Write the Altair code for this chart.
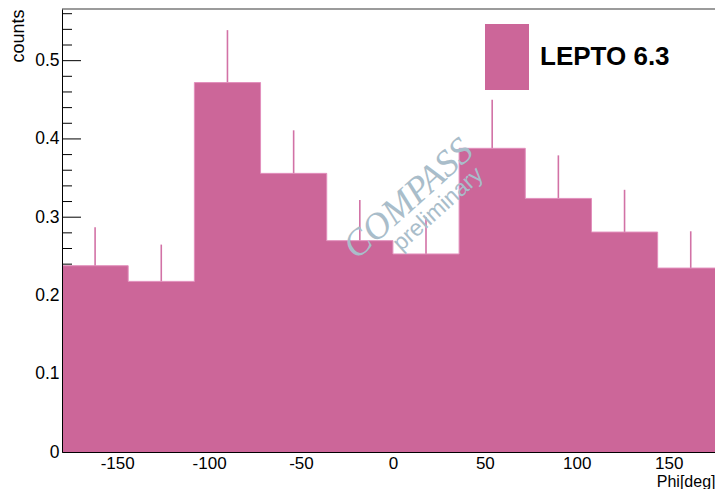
import altair as alt
import pandas as pd

# ---- data ----
bin_lo = [-180, -144, -108, -72, -36, 0, 36, 72, 108, 144]
bin_hi = [-144, -108, -72, -36, 0, 36, 72, 108, 144, 180]
counts = [0.238, 0.218, 0.472, 0.356, 0.270, 0.253, 0.388, 0.324, 0.281, 0.235]
errors = [0.049, 0.047, 0.067, 0.055, 0.052, 0.047, 0.062, 0.055, 0.054, 0.047]
series_name = "LEPTO 6.3"
x_tick_values = [-150, -100, -50, 0, 50, 100, 150]
y_major_ticks = [0, 0.1, 0.2, 0.3, 0.4, 0.5]
y_minor_ticks = [0.02, 0.04, 0.06, 0.08, 0.12, 0.14, 0.16, 0.18,
                 0.22, 0.24, 0.26, 0.28, 0.32, 0.34, 0.36, 0.38,
                 0.42, 0.44, 0.46, 0.48, 0.52, 0.54, 0.56]
watermark_main = ["COMPASS"]
watermark_sub = ["preliminary"]

FILL = "#cc6699"
OUTLINE = "#e28fbc"
ERRC = "#d272a6"
WM = "#a9bdca"
SANS = "Liberation Sans"

W, H = 653, 443

edges = pd.DataFrame({
    "edge": bin_lo + [bin_hi[-1]],
    "count": counts + [counts[-1]],
    "series": series_name,
})
bins = pd.DataFrame({
    "center": [(a + b) / 2 for a, b in zip(bin_lo, bin_hi)],
    "lo": [c - e for c, e in zip(counts, errors)],
    "hi": [c + e for c, e in zip(counts, errors)],
})

# the reference frame is cut by the window at about 175 deg
xs = alt.Scale(domain=[-180, 175.2], nice=False, zero=False)
ys = alt.Scale(domain=[0, 0.566], nice=False, zero=False)

x_axis = alt.Axis(
    values=x_tick_values, ticks=False, grid=False, domain=True,
    domainColor="black", domainWidth=1, labelFont=SANS, labelFontSize=17,
    labelColor="black", labelPadding=3, labelFlush=False,
    labelExpr="replace(datum.label, '\u2212', '-')",
    title="Phi[deg]", titleFont=SANS,
    titleFontSize=16, titleFontWeight="normal", titleColor="black",
    titleAlign="right", titleBaseline="alphabetic", titleX=W, titleY=34,
    zindex=1)
y_axis = alt.Axis(
    values=y_major_ticks, format="~g", ticks=False, grid=False, domain=True,
    domainColor="black", domainWidth=1, labelFont=SANS, labelFontSize=17.5,
    labelColor="black", labelPadding=3, title="counts", titleFont=SANS,
    titleFontSize=18, titleFontWeight="normal", titleColor="black",
    titleAngle=270, titleAlign="right", titleBaseline="middle",
    titleX=-44, titleY=0, zindex=1)

minor = alt.Chart(pd.DataFrame({"v": y_minor_ticks})).mark_rule(
    color="black", strokeWidth=1).encode(
    y=alt.Y("v:Q", scale=ys, axis=y_axis), x=alt.value(0), x2=alt.value(10))
major = alt.Chart(pd.DataFrame({"v": y_major_ticks})).mark_rule(
    color="black", strokeWidth=1).encode(
    y=alt.Y("v:Q", scale=ys, axis=y_axis), x=alt.value(0), x2=alt.value(19))

err = alt.Chart(bins).mark_rule(color=ERRC, strokeWidth=1.6, clip=True).encode(
    x=alt.X("center:Q", scale=xs, axis=x_axis),
    y=alt.Y("lo:Q", scale=ys, axis=y_axis),
    y2="hi:Q",
)

area = alt.Chart(edges).mark_area(interpolate="step-after", opacity=1, clip=True).encode(
    x=alt.X("edge:Q", scale=xs, axis=x_axis),
    y=alt.Y("count:Q", scale=ys, axis=y_axis),
    color=alt.Color("series:N", scale=alt.Scale(range=[FILL]), legend=alt.Legend(
        title=None, orient="none", legendX=412, legendY=15, padding=0,
        symbolType="M-0.6667,-1H0.6667V1H-0.6667Z", symbolSize=4356,
        symbolStrokeWidth=0, symbolOpacity=1, labelFont=SANS, labelFontSize=26,
        labelFontWeight="bold", labelColor="black", labelOffset=0, labelLimit=0)),
)

outline = alt.Chart(edges).mark_line(
    interpolate="step-after", color=OUTLINE, strokeWidth=1, clip=True).encode(
    x=alt.X("edge:Q", scale=xs, axis=x_axis),
    y=alt.Y("count:Q", scale=ys, axis=y_axis),
)

top_frame = alt.Chart(pd.DataFrame({"k": [0]})).mark_rule(
    color="#7a7a7a", strokeWidth=1.3).encode(
    y=alt.value(0), x=alt.value(0), x2=alt.value(W))

wm1 = alt.Chart(pd.DataFrame({"t": watermark_main})).mark_text(
    font="Liberation Serif", fontStyle="italic", fontSize=37, angle=318,
    color=WM, align="center", baseline="middle").encode(
    text="t:N", x=alt.value(346.5), y=alt.value(190))
wm2 = alt.Chart(pd.DataFrame({"t": watermark_sub})).mark_text(
    font=SANS, fontSize=23, angle=318, color=WM, align="center",
    baseline="middle").encode(
    text="t:N", x=alt.value(376), y=alt.value(200))

chart = alt.layer(minor, major, err, area, outline, top_frame, wm1, wm2).properties(
    width=W, height=H,
    padding={"left": 54, "top": 1, "right": 0, "bottom": 37},
    autosize=alt.AutoSizeParams(type="none"),
).configure_view(stroke=None)

chart.save("out.html", embed_options={"renderer": "svg", "actions": False})
